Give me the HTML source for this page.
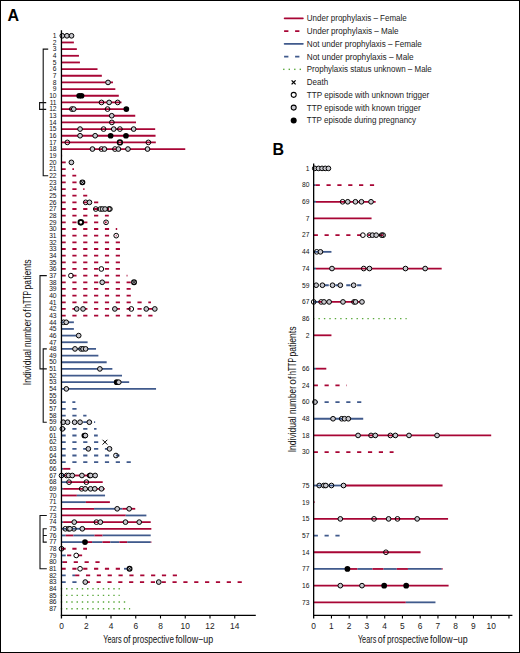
<!DOCTYPE html>
<html><head><meta charset="utf-8"><title>hTTP follow-up</title>
<style>html,body{margin:0;padding:0;background:#fff;}svg{display:block;}text{font-family:"Liberation Sans",sans-serif;}</style>
</head><body>
<svg width="520" height="653" viewBox="0 0 520 653">
<rect x="0.5" y="0.5" width="519" height="652" fill="#fff" stroke="#000" stroke-width="1"/>
<text x="7.4" y="21.1" font-family="Liberation Sans, sans-serif" font-size="16" font-weight="bold" fill="#000">A</text>
<text x="272.5" y="154.5" font-family="Liberation Sans, sans-serif" font-size="16" font-weight="bold" fill="#000">B</text>
<g><line x1="61.50" y1="35.80" x2="71.77" y2="35.80" stroke="#a80535" stroke-width="1.8"/>
<circle cx="62.30" cy="35.80" r="2.35" fill="#c9c9cf" stroke="#000" stroke-width="1.0"/>
<circle cx="66.94" cy="35.80" r="2.35" fill="#c9c9cf" stroke="#000" stroke-width="1.0"/>
<circle cx="71.52" cy="35.80" r="2.35" fill="#c9c9cf" stroke="#000" stroke-width="1.0"/>
<line x1="61.50" y1="42.46" x2="73.88" y2="42.46" stroke="#a80535" stroke-width="1.8"/>
<line x1="61.50" y1="49.12" x2="76.84" y2="49.12" stroke="#a80535" stroke-width="1.8"/>
<line x1="61.50" y1="55.79" x2="78.95" y2="55.79" stroke="#a80535" stroke-width="1.8"/>
<line x1="61.50" y1="62.45" x2="79.94" y2="62.45" stroke="#a80535" stroke-width="1.8"/>
<line x1="61.50" y1="69.11" x2="97.51" y2="69.11" stroke="#a80535" stroke-width="1.8"/>
<line x1="61.50" y1="75.77" x2="101.84" y2="75.77" stroke="#a80535" stroke-width="1.8"/>
<line x1="61.50" y1="82.43" x2="112.98" y2="82.43" stroke="#a80535" stroke-width="1.8"/>
<circle cx="108.03" cy="82.43" r="2.35" fill="#c9c9cf" stroke="#000" stroke-width="1.0"/>
<line x1="61.50" y1="89.10" x2="115.33" y2="89.10" stroke="#a80535" stroke-width="1.8"/>
<line x1="61.50" y1="95.76" x2="118.80" y2="95.76" stroke="#a80535" stroke-width="1.8"/>
<circle cx="79.20" cy="95.76" r="2.85" fill="#000"/>
<circle cx="81.55" cy="95.76" r="2.85" fill="#000"/>
<line x1="61.50" y1="102.42" x2="121.52" y2="102.42" stroke="#a80535" stroke-width="1.8"/>
<circle cx="101.47" cy="102.42" r="2.35" fill="none" stroke="#000" stroke-width="1.0"/>
<circle cx="117.68" cy="102.42" r="2.35" fill="none" stroke="#000" stroke-width="1.0"/>
<circle cx="109.14" cy="102.42" r="2.35" fill="#c9c9cf" stroke="#000" stroke-width="1.0"/>
<line x1="61.50" y1="109.08" x2="126.34" y2="109.08" stroke="#a80535" stroke-width="1.8"/>
<circle cx="71.89" cy="109.08" r="2.35" fill="none" stroke="#000" stroke-width="1.0"/>
<circle cx="107.53" cy="109.08" r="2.35" fill="none" stroke="#000" stroke-width="1.0"/>
<circle cx="126.34" cy="109.08" r="2.85" fill="#000"/>
<circle cx="73.75" cy="109.08" r="2.35" fill="#c9c9cf" stroke="#000" stroke-width="1.0"/>
<line x1="61.50" y1="115.74" x2="135.25" y2="115.74" stroke="#a80535" stroke-width="1.8"/>
<circle cx="111.74" cy="115.74" r="2.35" fill="#c9c9cf" stroke="#000" stroke-width="1.0"/>
<line x1="61.50" y1="122.41" x2="136.00" y2="122.41" stroke="#a80535" stroke-width="1.8"/>
<circle cx="111.87" cy="122.41" r="2.35" fill="none" stroke="#000" stroke-width="1.0"/>
<line x1="61.50" y1="129.07" x2="155.18" y2="129.07" stroke="#a80535" stroke-width="1.8"/>
<circle cx="103.57" cy="129.07" r="2.35" fill="none" stroke="#000" stroke-width="1.0"/>
<circle cx="119.91" cy="129.07" r="2.35" fill="none" stroke="#000" stroke-width="1.0"/>
<circle cx="80.06" cy="129.07" r="2.35" fill="#c9c9cf" stroke="#000" stroke-width="1.0"/>
<circle cx="113.72" cy="129.07" r="2.35" fill="#c9c9cf" stroke="#000" stroke-width="1.0"/>
<circle cx="133.65" cy="129.07" r="2.35" fill="#c9c9cf" stroke="#000" stroke-width="1.0"/>
<line x1="61.50" y1="135.73" x2="155.55" y2="135.73" stroke="#a80535" stroke-width="1.8"/>
<circle cx="110.63" cy="135.73" r="2.85" fill="#000"/>
<circle cx="125.97" cy="135.73" r="2.85" fill="#000"/>
<circle cx="80.06" cy="135.73" r="2.35" fill="#c9c9cf" stroke="#000" stroke-width="1.0"/>
<circle cx="95.16" cy="135.73" r="2.35" fill="#c9c9cf" stroke="#000" stroke-width="1.0"/>
<line x1="61.50" y1="142.39" x2="155.80" y2="142.39" stroke="#a80535" stroke-width="1.8"/>
<circle cx="67.32" cy="142.39" r="2.35" fill="none" stroke="#000" stroke-width="1.0"/>
<circle cx="119.91" cy="142.39" r="2.35" fill="none" stroke="#000" stroke-width="1.6"/>
<circle cx="148.37" cy="142.39" r="2.35" fill="none" stroke="#000" stroke-width="1.0"/>
<line x1="61.50" y1="149.05" x2="185.25" y2="149.05" stroke="#a80535" stroke-width="1.8"/>
<circle cx="101.47" cy="149.05" r="2.35" fill="none" stroke="#000" stroke-width="1.0"/>
<circle cx="114.96" cy="149.05" r="2.35" fill="none" stroke="#000" stroke-width="1.0"/>
<circle cx="92.44" cy="149.05" r="2.35" fill="#c9c9cf" stroke="#000" stroke-width="1.0"/>
<circle cx="104.44" cy="149.05" r="2.35" fill="#c9c9cf" stroke="#000" stroke-width="1.0"/>
<circle cx="118.42" cy="149.05" r="2.35" fill="#c9c9cf" stroke="#000" stroke-width="1.0"/>
<circle cx="127.95" cy="149.05" r="2.35" fill="#c9c9cf" stroke="#000" stroke-width="1.0"/>
<circle cx="147.51" cy="149.05" r="2.35" fill="#c9c9cf" stroke="#000" stroke-width="1.0"/>
<line x1="61.50" y1="155.72" x2="62.12" y2="155.72" stroke="#a80535" stroke-width="1.8"/>
<line x1="61.50" y1="162.38" x2="71.40" y2="162.38" stroke="#a80535" stroke-width="1.8" stroke-dasharray="4.2 6.65"/>
<circle cx="71.40" cy="162.38" r="2.35" fill="#c9c9cf" stroke="#000" stroke-width="1.0"/>
<line x1="61.50" y1="169.04" x2="74.00" y2="169.04" stroke="#a80535" stroke-width="1.8" stroke-dasharray="4.2 6.65"/>
<line x1="61.50" y1="175.70" x2="76.23" y2="175.70" stroke="#a80535" stroke-width="1.8" stroke-dasharray="4.2 6.65"/>
<line x1="61.50" y1="182.36" x2="82.41" y2="182.36" stroke="#a80535" stroke-width="1.8" stroke-dasharray="4.2 6.65"/>
<circle cx="82.41" cy="182.36" r="2.35" fill="#c9c9cf" stroke="#000" stroke-width="1.2"/><path d="M80.66 180.61L84.16 184.11M84.16 180.61L80.66 184.11" stroke="#000" stroke-width="0.8"/>
<line x1="61.50" y1="189.03" x2="84.52" y2="189.03" stroke="#a80535" stroke-width="1.8" stroke-dasharray="4.2 6.65"/>
<line x1="61.50" y1="195.69" x2="87.24" y2="195.69" stroke="#a80535" stroke-width="1.8" stroke-dasharray="4.2 6.65"/>
<line x1="61.50" y1="202.35" x2="98.25" y2="202.35" stroke="#a80535" stroke-width="1.8" stroke-dasharray="4.2 6.65"/>
<circle cx="85.75" cy="202.35" r="2.35" fill="none" stroke="#000" stroke-width="1.0"/>
<circle cx="89.47" cy="202.35" r="2.35" fill="#c9c9cf" stroke="#000" stroke-width="1.0"/>
<line x1="61.50" y1="209.01" x2="109.89" y2="209.01" stroke="#a80535" stroke-width="1.8" stroke-dasharray="4.2 6.65"/>
<circle cx="95.78" cy="209.01" r="2.35" fill="none" stroke="#000" stroke-width="1.0"/>
<circle cx="100.36" cy="209.01" r="2.35" fill="none" stroke="#000" stroke-width="1.0"/>
<circle cx="108.90" cy="209.01" r="2.35" fill="none" stroke="#000" stroke-width="1.0"/>
<circle cx="109.89" cy="209.01" r="2.35" fill="none" stroke="#000" stroke-width="1.0"/>
<circle cx="102.46" cy="209.01" r="2.35" fill="#c9c9cf" stroke="#000" stroke-width="1.0"/>
<circle cx="105.06" cy="209.01" r="2.35" fill="#c9c9cf" stroke="#000" stroke-width="1.0"/>
<line x1="61.50" y1="215.67" x2="108.77" y2="215.67" stroke="#a80535" stroke-width="1.8" stroke-dasharray="4.2 6.65"/>
<line x1="61.50" y1="222.34" x2="106.67" y2="222.34" stroke="#a80535" stroke-width="1.8" stroke-dasharray="4.2 6.65"/>
<circle cx="106.05" cy="222.34" r="2.35" fill="none" stroke="#000" stroke-width="1.0"/>
<circle cx="80.81" cy="222.34" r="2.35" fill="#fff" stroke="#000" stroke-width="1.9"/>
<line x1="61.50" y1="229.00" x2="117.19" y2="229.00" stroke="#a80535" stroke-width="1.8" stroke-dasharray="4.2 6.65"/>
<line x1="61.50" y1="235.66" x2="116.57" y2="235.66" stroke="#a80535" stroke-width="1.8" stroke-dasharray="4.2 6.65"/>
<circle cx="116.20" cy="235.66" r="2.35" fill="none" stroke="#000" stroke-width="1.0"/>
<line x1="61.50" y1="242.32" x2="120.28" y2="242.32" stroke="#a80535" stroke-width="1.8" stroke-dasharray="4.2 6.65"/>
<line x1="61.50" y1="248.98" x2="120.28" y2="248.98" stroke="#a80535" stroke-width="1.8" stroke-dasharray="4.2 6.65"/>
<line x1="61.50" y1="255.65" x2="120.28" y2="255.65" stroke="#a80535" stroke-width="1.8" stroke-dasharray="4.2 6.65"/>
<line x1="61.50" y1="262.31" x2="120.28" y2="262.31" stroke="#a80535" stroke-width="1.8" stroke-dasharray="4.2 6.65"/>
<line x1="61.50" y1="268.97" x2="120.28" y2="268.97" stroke="#a80535" stroke-width="1.8" stroke-dasharray="4.2 6.65"/>
<circle cx="101.35" cy="268.97" r="2.35" fill="none" stroke="#000" stroke-width="1.0"/>
<line x1="61.50" y1="275.63" x2="127.46" y2="275.63" stroke="#a80535" stroke-width="1.8" stroke-dasharray="4.2 6.65"/>
<circle cx="70.91" cy="275.63" r="2.35" fill="none" stroke="#000" stroke-width="1.0"/>
<line x1="61.50" y1="282.29" x2="134.02" y2="282.29" stroke="#a80535" stroke-width="1.8" stroke-dasharray="4.2 6.65"/>
<circle cx="102.21" cy="282.29" r="2.35" fill="#c9c9cf" stroke="#000" stroke-width="1.0"/>
<circle cx="134.02" cy="282.29" r="2.35" fill="#c9c9cf" stroke="#000" stroke-width="1.2"/><path d="M132.27 280.54L135.77 284.04M135.77 280.54L132.27 284.04" stroke="#000" stroke-width="0.8"/>
<line x1="61.50" y1="288.96" x2="130.68" y2="288.96" stroke="#a80535" stroke-width="1.8" stroke-dasharray="4.2 6.65"/>
<line x1="61.50" y1="295.62" x2="130.80" y2="295.62" stroke="#a80535" stroke-width="1.8" stroke-dasharray="4.2 6.65"/>
<line x1="61.50" y1="302.28" x2="150.97" y2="302.28" stroke="#a80535" stroke-width="1.8" stroke-dasharray="4.2 6.65"/>
<line x1="61.50" y1="308.94" x2="155.06" y2="308.94" stroke="#a80535" stroke-width="1.8" stroke-dasharray="4.2 6.65"/>
<circle cx="131.30" cy="308.94" r="2.35" fill="none" stroke="#000" stroke-width="1.0"/>
<circle cx="76.72" cy="308.94" r="2.35" fill="#c9c9cf" stroke="#000" stroke-width="1.0"/>
<circle cx="83.03" cy="308.94" r="2.35" fill="#c9c9cf" stroke="#000" stroke-width="1.0"/>
<circle cx="114.84" cy="308.94" r="2.35" fill="#c9c9cf" stroke="#000" stroke-width="1.0"/>
<circle cx="146.27" cy="308.94" r="2.35" fill="#c9c9cf" stroke="#000" stroke-width="1.0"/>
<circle cx="154.81" cy="308.94" r="2.35" fill="#c9c9cf" stroke="#000" stroke-width="1.0"/>
<line x1="61.50" y1="315.60" x2="152.95" y2="315.60" stroke="#a80535" stroke-width="1.8" stroke-dasharray="4.2 6.65"/>
<line x1="61.50" y1="322.27" x2="73.88" y2="322.27" stroke="#405a8c" stroke-width="1.8"/>
<circle cx="63.60" cy="322.27" r="2.35" fill="none" stroke="#000" stroke-width="1.0"/>
<circle cx="66.20" cy="322.27" r="2.35" fill="#c9c9cf" stroke="#000" stroke-width="1.0"/>
<line x1="61.50" y1="328.93" x2="73.88" y2="328.93" stroke="#405a8c" stroke-width="1.8"/>
<line x1="61.50" y1="335.59" x2="78.70" y2="335.59" stroke="#405a8c" stroke-width="1.8"/>
<circle cx="78.70" cy="335.59" r="2.35" fill="#c9c9cf" stroke="#000" stroke-width="1.0"/>
<line x1="61.50" y1="342.25" x2="87.61" y2="342.25" stroke="#405a8c" stroke-width="1.8"/>
<line x1="61.50" y1="348.91" x2="96.03" y2="348.91" stroke="#405a8c" stroke-width="1.8"/>
<circle cx="81.05" cy="348.91" r="2.35" fill="none" stroke="#000" stroke-width="1.0"/>
<circle cx="74.99" cy="348.91" r="2.35" fill="#c9c9cf" stroke="#000" stroke-width="1.0"/>
<circle cx="83.03" cy="348.91" r="2.35" fill="#c9c9cf" stroke="#000" stroke-width="1.0"/>
<circle cx="85.63" cy="348.91" r="2.35" fill="#c9c9cf" stroke="#000" stroke-width="1.0"/>
<line x1="61.50" y1="355.58" x2="98.38" y2="355.58" stroke="#405a8c" stroke-width="1.8"/>
<line x1="61.50" y1="362.24" x2="106.67" y2="362.24" stroke="#405a8c" stroke-width="1.8"/>
<line x1="61.50" y1="368.90" x2="112.36" y2="368.90" stroke="#405a8c" stroke-width="1.8"/>
<circle cx="99.86" cy="368.90" r="2.35" fill="#c9c9cf" stroke="#000" stroke-width="1.0"/>
<line x1="61.50" y1="375.56" x2="122.01" y2="375.56" stroke="#405a8c" stroke-width="1.8"/>
<line x1="61.50" y1="382.22" x2="129.19" y2="382.22" stroke="#405a8c" stroke-width="1.8"/>
<circle cx="116.69" cy="382.22" r="2.85" fill="#000"/>
<circle cx="118.80" cy="382.22" r="2.35" fill="#c9c9cf" stroke="#000" stroke-width="1.0"/>
<line x1="61.50" y1="388.89" x2="156.05" y2="388.89" stroke="#405a8c" stroke-width="1.8"/>
<circle cx="66.33" cy="388.89" r="2.35" fill="#c9c9cf" stroke="#000" stroke-width="1.0"/>

<line x1="61.50" y1="402.21" x2="75.36" y2="402.21" stroke="#405a8c" stroke-width="1.8" stroke-dasharray="4.2 6.65"/>
<line x1="61.50" y1="408.87" x2="79.57" y2="408.87" stroke="#405a8c" stroke-width="1.8" stroke-dasharray="4.2 6.65"/>
<line x1="61.50" y1="415.53" x2="86.50" y2="415.53" stroke="#405a8c" stroke-width="1.8" stroke-dasharray="4.2 6.65"/>
<line x1="61.50" y1="422.20" x2="95.16" y2="422.20" stroke="#405a8c" stroke-width="1.8" stroke-dasharray="4.2 6.65"/>
<circle cx="63.23" cy="422.20" r="2.35" fill="#c9c9cf" stroke="#000" stroke-width="1.0"/>
<circle cx="67.56" cy="422.20" r="2.35" fill="#c9c9cf" stroke="#000" stroke-width="1.0"/>
<circle cx="74.62" cy="422.20" r="2.35" fill="#c9c9cf" stroke="#000" stroke-width="1.0"/>
<circle cx="80.06" cy="422.20" r="2.35" fill="#c9c9cf" stroke="#000" stroke-width="1.0"/>
<circle cx="89.34" cy="422.20" r="2.35" fill="#c9c9cf" stroke="#000" stroke-width="1.0"/>
<line x1="61.50" y1="428.86" x2="96.52" y2="428.86" stroke="#405a8c" stroke-width="1.8" stroke-dasharray="4.2 6.65"/>
<circle cx="62.37" cy="428.86" r="2.35" fill="#c9c9cf" stroke="#000" stroke-width="1.0"/>
<line x1="61.50" y1="435.52" x2="97.76" y2="435.52" stroke="#405a8c" stroke-width="1.8" stroke-dasharray="4.2 6.65"/>
<circle cx="84.39" cy="435.52" r="2.85" fill="#000"/>
<circle cx="85.38" cy="435.52" r="2.35" fill="#c9c9cf" stroke="#000" stroke-width="1.0"/>
<line x1="61.50" y1="442.18" x2="104.94" y2="442.18" stroke="#405a8c" stroke-width="1.8" stroke-dasharray="4.2 6.65"/>
<path d="M102.54 439.78L107.34 444.58M107.34 439.78L102.54 444.58" stroke="#000" stroke-width="1"/>
<line x1="61.50" y1="448.84" x2="110.01" y2="448.84" stroke="#405a8c" stroke-width="1.8" stroke-dasharray="4.2 6.65"/>
<circle cx="88.35" cy="448.84" r="2.35" fill="#c9c9cf" stroke="#000" stroke-width="1.0"/>
<circle cx="109.52" cy="448.84" r="2.35" fill="#c9c9cf" stroke="#000" stroke-width="1.0"/>
<line x1="61.50" y1="455.51" x2="119.54" y2="455.51" stroke="#405a8c" stroke-width="1.8" stroke-dasharray="4.2 6.65"/>
<circle cx="115.95" cy="455.51" r="2.35" fill="none" stroke="#000" stroke-width="1.0"/>
<line x1="61.50" y1="462.17" x2="130.80" y2="462.17" stroke="#405a8c" stroke-width="1.8" stroke-dasharray="4.2 6.65"/>
<line x1="61.50" y1="468.83" x2="63.11" y2="468.83" stroke="#405a8c" stroke-width="1.8"/>
<line x1="63.11" y1="468.83" x2="70.29" y2="468.83" stroke="#a80535" stroke-width="1.8"/>
<line x1="61.50" y1="475.49" x2="64.59" y2="475.49" stroke="#405a8c" stroke-width="1.8"/>
<line x1="64.59" y1="475.49" x2="95.53" y2="475.49" stroke="#a80535" stroke-width="1.8"/>
<circle cx="61.50" cy="475.49" r="2.35" fill="none" stroke="#000" stroke-width="1.0"/>
<circle cx="66.70" cy="475.49" r="2.35" fill="none" stroke="#000" stroke-width="1.0"/>
<circle cx="89.59" cy="475.49" r="2.35" fill="none" stroke="#000" stroke-width="1.0"/>
<circle cx="68.68" cy="475.49" r="2.35" fill="#c9c9cf" stroke="#000" stroke-width="1.0"/>
<circle cx="72.27" cy="475.49" r="2.35" fill="#c9c9cf" stroke="#000" stroke-width="1.0"/>
<circle cx="81.92" cy="475.49" r="2.35" fill="#c9c9cf" stroke="#000" stroke-width="1.0"/>
<circle cx="90.70" cy="475.49" r="2.35" fill="#c9c9cf" stroke="#000" stroke-width="1.0"/>
<circle cx="95.16" cy="475.49" r="2.35" fill="#c9c9cf" stroke="#000" stroke-width="1.0"/>
<line x1="61.50" y1="482.15" x2="67.69" y2="482.15" stroke="#405a8c" stroke-width="1.8"/>
<line x1="67.69" y1="482.15" x2="102.71" y2="482.15" stroke="#a80535" stroke-width="1.8"/>
<circle cx="69.05" cy="482.15" r="2.35" fill="none" stroke="#000" stroke-width="1.0"/>
<circle cx="86.37" cy="482.15" r="2.35" fill="none" stroke="#000" stroke-width="1.0"/>
<line x1="61.50" y1="488.82" x2="63.11" y2="488.82" stroke="#405a8c" stroke-width="1.8"/>
<line x1="63.11" y1="488.82" x2="104.69" y2="488.82" stroke="#a80535" stroke-width="1.8"/>
<circle cx="81.67" cy="488.82" r="2.35" fill="none" stroke="#000" stroke-width="1.0"/>
<circle cx="85.26" cy="488.82" r="2.35" fill="#c9c9cf" stroke="#000" stroke-width="1.0"/>
<circle cx="90.58" cy="488.82" r="2.35" fill="#c9c9cf" stroke="#000" stroke-width="1.0"/>
<circle cx="94.79" cy="488.82" r="2.35" fill="#c9c9cf" stroke="#000" stroke-width="1.0"/>
<circle cx="101.47" cy="488.82" r="2.35" fill="#c9c9cf" stroke="#000" stroke-width="1.0"/>
<line x1="61.50" y1="495.48" x2="76.84" y2="495.48" stroke="#a80535" stroke-width="1.8"/>
<line x1="76.84" y1="495.48" x2="105.06" y2="495.48" stroke="#405a8c" stroke-width="1.8"/>
<line x1="61.50" y1="502.14" x2="85.88" y2="502.14" stroke="#405a8c" stroke-width="1.8"/>
<line x1="85.88" y1="502.14" x2="109.89" y2="502.14" stroke="#a80535" stroke-width="1.8"/>
<line x1="61.50" y1="508.80" x2="94.05" y2="508.80" stroke="#a80535" stroke-width="1.8"/>
<line x1="94.05" y1="508.80" x2="122.38" y2="508.80" stroke="#405a8c" stroke-width="1.8"/>
<line x1="122.38" y1="508.80" x2="135.25" y2="508.80" stroke="#a80535" stroke-width="1.8"/>
<circle cx="117.19" cy="508.80" r="2.35" fill="#c9c9cf" stroke="#000" stroke-width="1.0"/>
<circle cx="129.19" cy="508.80" r="2.35" fill="#c9c9cf" stroke="#000" stroke-width="1.0"/>
<line x1="61.50" y1="515.46" x2="125.73" y2="515.46" stroke="#a80535" stroke-width="1.8"/>
<line x1="125.73" y1="515.46" x2="146.39" y2="515.46" stroke="#405a8c" stroke-width="1.8"/>
<line x1="61.50" y1="522.13" x2="63.11" y2="522.13" stroke="#405a8c" stroke-width="1.8"/>
<line x1="63.11" y1="522.13" x2="150.72" y2="522.13" stroke="#a80535" stroke-width="1.8"/>
<circle cx="96.40" cy="522.13" r="2.35" fill="none" stroke="#000" stroke-width="1.0"/>
<circle cx="74.25" cy="522.13" r="2.35" fill="#c9c9cf" stroke="#000" stroke-width="1.0"/>
<circle cx="100.36" cy="522.13" r="2.35" fill="#c9c9cf" stroke="#000" stroke-width="1.0"/>
<circle cx="125.48" cy="522.13" r="2.35" fill="#c9c9cf" stroke="#000" stroke-width="1.0"/>
<circle cx="139.22" cy="522.13" r="2.35" fill="#c9c9cf" stroke="#000" stroke-width="1.0"/>
<line x1="61.50" y1="528.79" x2="82.29" y2="528.79" stroke="#405a8c" stroke-width="1.8"/>
<line x1="82.29" y1="528.79" x2="151.34" y2="528.79" stroke="#a80535" stroke-width="1.8"/>
<circle cx="65.34" cy="528.79" r="2.35" fill="none" stroke="#000" stroke-width="1.0"/>
<circle cx="73.88" cy="528.79" r="2.35" fill="none" stroke="#000" stroke-width="1.0"/>
<circle cx="68.55" cy="528.79" r="2.35" fill="#c9c9cf" stroke="#000" stroke-width="1.0"/>
<circle cx="69.92" cy="528.79" r="2.35" fill="#c9c9cf" stroke="#000" stroke-width="1.0"/>
<circle cx="82.29" cy="528.79" r="2.35" fill="#c9c9cf" stroke="#000" stroke-width="1.0"/>
<line x1="61.50" y1="535.45" x2="65.71" y2="535.45" stroke="#405a8c" stroke-width="1.8"/>
<line x1="65.71" y1="535.45" x2="73.38" y2="535.45" stroke="#a80535" stroke-width="1.8"/>
<line x1="73.38" y1="535.45" x2="94.54" y2="535.45" stroke="#405a8c" stroke-width="1.8"/>
<line x1="94.54" y1="535.45" x2="102.59" y2="535.45" stroke="#a80535" stroke-width="1.8"/>
<line x1="102.59" y1="535.45" x2="150.72" y2="535.45" stroke="#405a8c" stroke-width="1.8"/>
<line x1="61.50" y1="542.11" x2="85.01" y2="542.11" stroke="#405a8c" stroke-width="1.8"/>
<line x1="85.01" y1="542.11" x2="92.07" y2="542.11" stroke="#a80535" stroke-width="1.8"/>
<line x1="92.07" y1="542.11" x2="102.46" y2="542.11" stroke="#405a8c" stroke-width="1.8"/>
<line x1="102.46" y1="542.11" x2="110.26" y2="542.11" stroke="#a80535" stroke-width="1.8"/>
<line x1="110.26" y1="542.11" x2="119.41" y2="542.11" stroke="#405a8c" stroke-width="1.8"/>
<line x1="119.41" y1="542.11" x2="127.21" y2="542.11" stroke="#a80535" stroke-width="1.8"/>
<line x1="127.21" y1="542.11" x2="150.72" y2="542.11" stroke="#405a8c" stroke-width="1.8"/>
<line x1="150.72" y1="542.11" x2="151.34" y2="542.11" stroke="#a80535" stroke-width="1.8"/>
<circle cx="85.01" cy="542.11" r="2.85" fill="#000"/>
<line x1="61.50" y1="548.77" x2="86.99" y2="548.77" stroke="#a80535" stroke-width="1.8" stroke-dasharray="4.2 6.65"/>
<circle cx="61.50" cy="548.77" r="2.35" fill="none" stroke="#000" stroke-width="1.0"/>
<line x1="61.50" y1="555.44" x2="67.07" y2="555.44" stroke="#405a8c" stroke-width="1.8" stroke-dasharray="4.2 6.65"/>
<line x1="67.07" y1="555.44" x2="82.66" y2="555.44" stroke="#a80535" stroke-width="1.8" stroke-dasharray="4.2 6.65"/>
<circle cx="76.23" cy="555.44" r="2.35" fill="none" stroke="#000" stroke-width="1.0"/>
<line x1="61.50" y1="562.10" x2="62.86" y2="562.10" stroke="#405a8c" stroke-width="1.8"/>
<line x1="62.86" y1="562.10" x2="103.70" y2="562.10" stroke="#a80535" stroke-width="1.8" stroke-dasharray="4.2 6.65"/>
<line x1="61.50" y1="568.76" x2="123.99" y2="568.76" stroke="#a80535" stroke-width="1.8" stroke-dasharray="4.2 6.65"/>
<line x1="123.99" y1="568.76" x2="129.56" y2="568.76" stroke="#405a8c" stroke-width="1.8" stroke-dasharray="4.2 6.65"/>
<circle cx="80.06" cy="568.76" r="2.35" fill="none" stroke="#000" stroke-width="1.0"/>
<circle cx="129.56" cy="568.76" r="2.35" fill="#c9c9cf" stroke="#000" stroke-width="1.2"/><path d="M127.81 567.01L131.31 570.51M131.31 567.01L127.81 570.51" stroke="#000" stroke-width="0.8"/>
<line x1="61.50" y1="575.42" x2="75.11" y2="575.42" stroke="#405a8c" stroke-width="1.8" stroke-dasharray="4.2 6.65"/>
<line x1="75.11" y1="575.42" x2="177.45" y2="575.42" stroke="#a80535" stroke-width="1.8" stroke-dasharray="4.2 6.65"/>
<line x1="61.50" y1="582.08" x2="85.69" y2="582.08" stroke="#405a8c" stroke-width="1.8" stroke-dasharray="4.2 6.65"/>
<line x1="85.69" y1="582.08" x2="242.55" y2="582.08" stroke="#a80535" stroke-width="1.8" stroke-dasharray="4.2 6.65"/>
<circle cx="85.26" cy="582.08" r="2.35" fill="#c9c9cf" stroke="#000" stroke-width="1.0"/>
<circle cx="158.77" cy="582.08" r="2.35" fill="#c9c9cf" stroke="#000" stroke-width="1.0"/>
<line x1="60.80" y1="588.75" x2="119.87" y2="588.75" stroke="#5aa83c" stroke-width="1.4" stroke-dasharray="1.4 3.85"/>
<line x1="60.80" y1="595.41" x2="119.74" y2="595.41" stroke="#5aa83c" stroke-width="1.4" stroke-dasharray="1.4 3.85"/>
<line x1="60.80" y1="602.07" x2="126.55" y2="602.07" stroke="#5aa83c" stroke-width="1.4" stroke-dasharray="1.4 3.85"/>
<line x1="60.80" y1="608.73" x2="130.14" y2="608.73" stroke="#5aa83c" stroke-width="1.4" stroke-dasharray="1.4 3.85"/></g>
<g font-family="Liberation Sans, sans-serif" font-size="6.7" fill="#111" text-anchor="end"><text x="56.6" y="38.05">1</text><text x="56.6" y="44.71">2</text><text x="56.6" y="51.37">3</text><text x="56.6" y="58.04">4</text><text x="56.6" y="64.70">5</text><text x="56.6" y="71.36">6</text><text x="56.6" y="78.02">7</text><text x="56.6" y="84.68">8</text><text x="56.6" y="91.35">9</text><text x="56.6" y="98.01">10</text><text x="56.6" y="104.67">11</text><text x="56.6" y="111.33">12</text><text x="56.6" y="117.99">13</text><text x="56.6" y="124.66">14</text><text x="56.6" y="131.32">15</text><text x="56.6" y="137.98">16</text><text x="56.6" y="144.64">17</text><text x="56.6" y="151.30">18</text><text x="56.6" y="157.97">19</text><text x="56.6" y="164.63">20</text><text x="56.6" y="171.29">21</text><text x="56.6" y="177.95">22</text><text x="56.6" y="184.61">23</text><text x="56.6" y="191.28">24</text><text x="56.6" y="197.94">25</text><text x="56.6" y="204.60">26</text><text x="56.6" y="211.26">27</text><text x="56.6" y="217.92">28</text><text x="56.6" y="224.59">29</text><text x="56.6" y="231.25">30</text><text x="56.6" y="237.91">31</text><text x="56.6" y="244.57">32</text><text x="56.6" y="251.23">33</text><text x="56.6" y="257.90">34</text><text x="56.6" y="264.56">35</text><text x="56.6" y="271.22">36</text><text x="56.6" y="277.88">37</text><text x="56.6" y="284.54">38</text><text x="56.6" y="291.21">39</text><text x="56.6" y="297.87">40</text><text x="56.6" y="304.53">41</text><text x="56.6" y="311.19">42</text><text x="56.6" y="317.85">43</text><text x="56.6" y="324.52">44</text><text x="56.6" y="331.18">45</text><text x="56.6" y="337.84">46</text><text x="56.6" y="344.50">47</text><text x="56.6" y="351.16">48</text><text x="56.6" y="357.83">49</text><text x="56.6" y="364.49">50</text><text x="56.6" y="371.15">51</text><text x="56.6" y="377.81">52</text><text x="56.6" y="384.47">53</text><text x="56.6" y="391.14">54</text><text x="56.6" y="397.80">55</text><text x="56.6" y="404.46">56</text><text x="56.6" y="411.12">57</text><text x="56.6" y="417.78">58</text><text x="56.6" y="424.45">59</text><text x="56.6" y="431.11">60</text><text x="56.6" y="437.77">61</text><text x="56.6" y="444.43">62</text><text x="56.6" y="451.09">63</text><text x="56.6" y="457.76">64</text><text x="56.6" y="464.42">65</text><text x="56.6" y="471.08">66</text><text x="56.6" y="477.74">67</text><text x="56.6" y="484.40">68</text><text x="56.6" y="491.07">69</text><text x="56.6" y="497.73">70</text><text x="56.6" y="504.39">71</text><text x="56.6" y="511.05">72</text><text x="56.6" y="517.71">73</text><text x="56.6" y="524.38">74</text><text x="56.6" y="531.04">75</text><text x="56.6" y="537.70">76</text><text x="56.6" y="544.36">77</text><text x="56.6" y="551.02">78</text><text x="56.6" y="557.69">79</text><text x="56.6" y="564.35">80</text><text x="56.6" y="571.01">81</text><text x="56.6" y="577.67">82</text><text x="56.6" y="584.33">83</text><text x="56.6" y="591.00">84</text><text x="56.6" y="597.66">85</text><text x="56.6" y="604.32">86</text><text x="56.6" y="610.98">87</text></g>
<line x1="61.45" y1="30.3" x2="61.45" y2="618.5" stroke="#000" stroke-width="1.3"/>
<line x1="60.8" y1="615.3" x2="255.8" y2="615.3" stroke="#000" stroke-width="1.3"/>
<line x1="86.25" y1="615" x2="86.25" y2="618.5" stroke="#000" stroke-width="1.1"/><line x1="111.00" y1="615" x2="111.00" y2="618.5" stroke="#000" stroke-width="1.1"/><line x1="135.75" y1="615" x2="135.75" y2="618.5" stroke="#000" stroke-width="1.1"/><line x1="160.50" y1="615" x2="160.50" y2="618.5" stroke="#000" stroke-width="1.1"/><line x1="185.25" y1="615" x2="185.25" y2="618.5" stroke="#000" stroke-width="1.1"/><line x1="210.00" y1="615" x2="210.00" y2="618.5" stroke="#000" stroke-width="1.1"/><line x1="234.75" y1="615" x2="234.75" y2="618.5" stroke="#000" stroke-width="1.1"/>
<g font-family="Liberation Sans, sans-serif" font-size="8.4" fill="#222" text-anchor="middle"><text x="61.50" y="629.1">0</text><text x="86.25" y="629.1">2</text><text x="111.00" y="629.1">4</text><text x="135.75" y="629.1">6</text><text x="160.50" y="629.1">8</text><text x="185.25" y="629.1">10</text><text x="210.00" y="629.1">12</text><text x="234.75" y="629.1">14</text></g>
<g font-family="Liberation Sans, sans-serif" font-size="10.5" fill="#111"><text x="103.30" y="642.8" textLength="18.40" lengthAdjust="spacingAndGlyphs">Years</text><text x="123.20" y="642.8" textLength="7.40" lengthAdjust="spacingAndGlyphs">of</text><text x="132.50" y="642.8" textLength="41.40" lengthAdjust="spacingAndGlyphs">prospective</text><text x="175.40" y="642.8" textLength="37.70" lengthAdjust="spacingAndGlyphs">follow−up</text></g>
<g font-family="Liberation Sans, sans-serif" font-size="10.5" fill="#111"><text transform="translate(30.6,385.20) rotate(-90)" textLength="36.00" lengthAdjust="spacingAndGlyphs">Individual</text><text transform="translate(30.6,347.00) rotate(-90)" textLength="28.00" lengthAdjust="spacingAndGlyphs">number</text><text transform="translate(30.6,317.70) rotate(-90)" textLength="8.40" lengthAdjust="spacingAndGlyphs">of</text><text transform="translate(30.6,308.00) rotate(-90)" textLength="17.20" lengthAdjust="spacingAndGlyphs">hTTP</text><text transform="translate(30.6,289.40) rotate(-90)" textLength="30.00" lengthAdjust="spacingAndGlyphs">patients</text></g>
<path d="M48.2 49.12H43.2V175.70H48.2" fill="none" stroke="#111" stroke-width="1.1"/>
<path d="M46.2 102.6H39.6V109.4H46.2" fill="none" stroke="#111" stroke-width="1.1"/>
<path d="M46.8 275.63H40.0V368.90H46.8" fill="none" stroke="#111" stroke-width="1.1"/>
<path d="M46.8 348.91H43.2V422.20H46.8" fill="none" stroke="#111" stroke-width="1.1"/>
<path d="M46.8 515.46H40.0V568.76H46.8" fill="none" stroke="#111" stroke-width="1.1"/>
<path d="M46.8 528.79H43.2V542.11H46.8M43.2 535.45H46.8" fill="none" stroke="#111" stroke-width="1.1"/>
<g><line x1="313.70" y1="168.40" x2="328.43" y2="168.40" stroke="#a80535" stroke-width="1.8"/>
<circle cx="314.76" cy="168.40" r="2.35" fill="#c9c9cf" stroke="#000" stroke-width="1.0"/>
<circle cx="318.49" cy="168.40" r="2.35" fill="#c9c9cf" stroke="#000" stroke-width="1.0"/>
<circle cx="322.04" cy="168.40" r="2.35" fill="#c9c9cf" stroke="#000" stroke-width="1.0"/>
<circle cx="325.24" cy="168.40" r="2.35" fill="#c9c9cf" stroke="#000" stroke-width="1.0"/>
<circle cx="328.43" cy="168.40" r="2.35" fill="#c9c9cf" stroke="#000" stroke-width="1.0"/>
<line x1="313.70" y1="185.09" x2="315.65" y2="185.09" stroke="#405a8c" stroke-width="1.8"/>
<line x1="315.65" y1="185.09" x2="374.23" y2="185.09" stroke="#a80535" stroke-width="1.8" stroke-dasharray="4.2 6.65"/>
<line x1="313.70" y1="201.78" x2="316.01" y2="201.78" stroke="#405a8c" stroke-width="1.8"/>
<line x1="316.01" y1="201.78" x2="375.65" y2="201.78" stroke="#a80535" stroke-width="1.8"/>
<circle cx="342.63" cy="201.78" r="2.35" fill="none" stroke="#000" stroke-width="1.0"/>
<circle cx="347.78" cy="201.78" r="2.35" fill="#c9c9cf" stroke="#000" stroke-width="1.0"/>
<circle cx="355.41" cy="201.78" r="2.35" fill="#c9c9cf" stroke="#000" stroke-width="1.0"/>
<circle cx="361.45" cy="201.78" r="2.35" fill="#c9c9cf" stroke="#000" stroke-width="1.0"/>
<circle cx="371.03" cy="201.78" r="2.35" fill="#c9c9cf" stroke="#000" stroke-width="1.0"/>
<line x1="313.70" y1="218.47" x2="371.56" y2="218.47" stroke="#a80535" stroke-width="1.8"/>
<line x1="313.70" y1="235.16" x2="383.10" y2="235.16" stroke="#a80535" stroke-width="1.8" stroke-dasharray="4.2 6.65"/>
<circle cx="362.87" cy="235.16" r="2.35" fill="none" stroke="#000" stroke-width="1.0"/>
<circle cx="369.44" cy="235.16" r="2.35" fill="none" stroke="#000" stroke-width="1.0"/>
<circle cx="381.68" cy="235.16" r="2.35" fill="none" stroke="#000" stroke-width="1.0"/>
<circle cx="383.10" cy="235.16" r="2.35" fill="none" stroke="#000" stroke-width="1.0"/>
<circle cx="372.45" cy="235.16" r="2.35" fill="#c9c9cf" stroke="#000" stroke-width="1.0"/>
<circle cx="376.18" cy="235.16" r="2.35" fill="#c9c9cf" stroke="#000" stroke-width="1.0"/>
<line x1="313.70" y1="251.85" x2="331.45" y2="251.85" stroke="#405a8c" stroke-width="1.8"/>
<circle cx="316.72" cy="251.85" r="2.35" fill="none" stroke="#000" stroke-width="1.0"/>
<circle cx="320.44" cy="251.85" r="2.35" fill="#c9c9cf" stroke="#000" stroke-width="1.0"/>
<line x1="313.70" y1="268.54" x2="316.01" y2="268.54" stroke="#405a8c" stroke-width="1.8"/>
<line x1="316.01" y1="268.54" x2="441.68" y2="268.54" stroke="#a80535" stroke-width="1.8"/>
<circle cx="363.75" cy="268.54" r="2.35" fill="none" stroke="#000" stroke-width="1.0"/>
<circle cx="331.98" cy="268.54" r="2.35" fill="#c9c9cf" stroke="#000" stroke-width="1.0"/>
<circle cx="369.44" cy="268.54" r="2.35" fill="#c9c9cf" stroke="#000" stroke-width="1.0"/>
<circle cx="405.47" cy="268.54" r="2.35" fill="#c9c9cf" stroke="#000" stroke-width="1.0"/>
<circle cx="425.17" cy="268.54" r="2.35" fill="#c9c9cf" stroke="#000" stroke-width="1.0"/>
<line x1="313.70" y1="285.23" x2="361.98" y2="285.23" stroke="#405a8c" stroke-width="1.8" stroke-dasharray="4.2 6.65"/>
<circle cx="316.19" cy="285.23" r="2.35" fill="#c9c9cf" stroke="#000" stroke-width="1.0"/>
<circle cx="322.40" cy="285.23" r="2.35" fill="#c9c9cf" stroke="#000" stroke-width="1.0"/>
<circle cx="332.51" cy="285.23" r="2.35" fill="#c9c9cf" stroke="#000" stroke-width="1.0"/>
<circle cx="340.32" cy="285.23" r="2.35" fill="#c9c9cf" stroke="#000" stroke-width="1.0"/>
<circle cx="353.64" cy="285.23" r="2.35" fill="#c9c9cf" stroke="#000" stroke-width="1.0"/>
<line x1="313.70" y1="301.92" x2="318.14" y2="301.92" stroke="#405a8c" stroke-width="1.8"/>
<line x1="318.14" y1="301.92" x2="362.51" y2="301.92" stroke="#a80535" stroke-width="1.8"/>
<circle cx="313.70" cy="301.92" r="2.35" fill="none" stroke="#000" stroke-width="1.0"/>
<circle cx="321.15" cy="301.92" r="2.35" fill="none" stroke="#000" stroke-width="1.0"/>
<circle cx="353.99" cy="301.92" r="2.35" fill="none" stroke="#000" stroke-width="1.0"/>
<circle cx="324.00" cy="301.92" r="2.35" fill="#c9c9cf" stroke="#000" stroke-width="1.0"/>
<circle cx="329.14" cy="301.92" r="2.35" fill="#c9c9cf" stroke="#000" stroke-width="1.0"/>
<circle cx="342.99" cy="301.92" r="2.35" fill="#c9c9cf" stroke="#000" stroke-width="1.0"/>
<circle cx="355.59" cy="301.92" r="2.35" fill="#c9c9cf" stroke="#000" stroke-width="1.0"/>
<circle cx="361.98" cy="301.92" r="2.35" fill="#c9c9cf" stroke="#000" stroke-width="1.0"/>
<line x1="313.00" y1="318.61" x2="406.70" y2="318.61" stroke="#5aa83c" stroke-width="1.4" stroke-dasharray="1.4 4.04"/>
<line x1="313.70" y1="335.30" x2="331.45" y2="335.30" stroke="#a80535" stroke-width="1.8"/>
<line x1="313.70" y1="368.68" x2="316.01" y2="368.68" stroke="#405a8c" stroke-width="1.8"/>
<line x1="316.01" y1="368.68" x2="326.30" y2="368.68" stroke="#a80535" stroke-width="1.8"/>
<line x1="313.70" y1="385.37" x2="346.71" y2="385.37" stroke="#a80535" stroke-width="1.8" stroke-dasharray="4.2 6.65"/>
<line x1="313.70" y1="402.06" x2="363.93" y2="402.06" stroke="#405a8c" stroke-width="1.8" stroke-dasharray="4.2 6.65"/>
<circle cx="314.94" cy="402.06" r="2.35" fill="#c9c9cf" stroke="#000" stroke-width="1.0"/>
<line x1="313.70" y1="418.75" x2="363.22" y2="418.75" stroke="#405a8c" stroke-width="1.8"/>
<circle cx="341.75" cy="418.75" r="2.35" fill="none" stroke="#000" stroke-width="1.0"/>
<circle cx="333.05" cy="418.75" r="2.35" fill="#c9c9cf" stroke="#000" stroke-width="1.0"/>
<circle cx="344.58" cy="418.75" r="2.35" fill="#c9c9cf" stroke="#000" stroke-width="1.0"/>
<circle cx="348.31" cy="418.75" r="2.35" fill="#c9c9cf" stroke="#000" stroke-width="1.0"/>
<line x1="313.70" y1="435.44" x2="491.20" y2="435.44" stroke="#a80535" stroke-width="1.8"/>
<circle cx="371.03" cy="435.44" r="2.35" fill="none" stroke="#000" stroke-width="1.0"/>
<circle cx="390.38" cy="435.44" r="2.35" fill="none" stroke="#000" stroke-width="1.0"/>
<circle cx="358.07" cy="435.44" r="2.35" fill="#c9c9cf" stroke="#000" stroke-width="1.0"/>
<circle cx="375.29" cy="435.44" r="2.35" fill="#c9c9cf" stroke="#000" stroke-width="1.0"/>
<circle cx="395.35" cy="435.44" r="2.35" fill="#c9c9cf" stroke="#000" stroke-width="1.0"/>
<circle cx="409.02" cy="435.44" r="2.35" fill="#c9c9cf" stroke="#000" stroke-width="1.0"/>
<circle cx="437.06" cy="435.44" r="2.35" fill="#c9c9cf" stroke="#000" stroke-width="1.0"/>
<line x1="313.70" y1="452.13" x2="393.57" y2="452.13" stroke="#a80535" stroke-width="1.8" stroke-dasharray="4.2 6.65"/>
<line x1="313.70" y1="485.51" x2="343.52" y2="485.51" stroke="#405a8c" stroke-width="1.8"/>
<line x1="343.52" y1="485.51" x2="442.56" y2="485.51" stroke="#a80535" stroke-width="1.8"/>
<circle cx="319.20" cy="485.51" r="2.35" fill="none" stroke="#000" stroke-width="1.0"/>
<circle cx="331.45" cy="485.51" r="2.35" fill="none" stroke="#000" stroke-width="1.0"/>
<circle cx="323.82" cy="485.51" r="2.35" fill="#c9c9cf" stroke="#000" stroke-width="1.0"/>
<circle cx="325.77" cy="485.51" r="2.35" fill="#c9c9cf" stroke="#000" stroke-width="1.0"/>
<circle cx="343.52" cy="485.51" r="2.35" fill="#c9c9cf" stroke="#000" stroke-width="1.0"/>
<line x1="313.70" y1="502.20" x2="314.59" y2="502.20" stroke="#a80535" stroke-width="1.8"/>
<line x1="313.70" y1="518.89" x2="448.07" y2="518.89" stroke="#a80535" stroke-width="1.8"/>
<circle cx="374.05" cy="518.89" r="2.35" fill="none" stroke="#000" stroke-width="1.0"/>
<circle cx="397.48" cy="518.89" r="2.35" fill="none" stroke="#000" stroke-width="1.0"/>
<circle cx="340.32" cy="518.89" r="2.35" fill="#c9c9cf" stroke="#000" stroke-width="1.0"/>
<circle cx="388.61" cy="518.89" r="2.35" fill="#c9c9cf" stroke="#000" stroke-width="1.0"/>
<circle cx="417.18" cy="518.89" r="2.35" fill="#c9c9cf" stroke="#000" stroke-width="1.0"/>
<line x1="313.70" y1="535.58" x2="339.62" y2="535.58" stroke="#405a8c" stroke-width="1.8" stroke-dasharray="4.2 6.65"/>
<line x1="313.70" y1="552.27" x2="420.55" y2="552.27" stroke="#a80535" stroke-width="1.8"/>
<circle cx="385.94" cy="552.27" r="2.35" fill="none" stroke="#000" stroke-width="1.0"/>
<line x1="313.70" y1="568.96" x2="347.43" y2="568.96" stroke="#405a8c" stroke-width="1.8"/>
<line x1="347.43" y1="568.96" x2="357.54" y2="568.96" stroke="#a80535" stroke-width="1.8"/>
<line x1="357.54" y1="568.96" x2="372.45" y2="568.96" stroke="#405a8c" stroke-width="1.8"/>
<line x1="372.45" y1="568.96" x2="383.63" y2="568.96" stroke="#a80535" stroke-width="1.8"/>
<line x1="383.63" y1="568.96" x2="396.77" y2="568.96" stroke="#405a8c" stroke-width="1.8"/>
<line x1="396.77" y1="568.96" x2="407.95" y2="568.96" stroke="#a80535" stroke-width="1.8"/>
<line x1="407.95" y1="568.96" x2="441.68" y2="568.96" stroke="#405a8c" stroke-width="1.8"/>
<line x1="441.68" y1="568.96" x2="442.56" y2="568.96" stroke="#a80535" stroke-width="1.8"/>
<circle cx="347.43" cy="568.96" r="2.85" fill="#000"/>
<line x1="313.70" y1="585.65" x2="448.60" y2="585.65" stroke="#a80535" stroke-width="1.8"/>
<circle cx="384.17" cy="585.65" r="2.85" fill="#000"/>
<circle cx="406.18" cy="585.65" r="2.85" fill="#000"/>
<circle cx="340.32" cy="585.65" r="2.35" fill="#c9c9cf" stroke="#000" stroke-width="1.0"/>
<circle cx="361.98" cy="585.65" r="2.35" fill="#c9c9cf" stroke="#000" stroke-width="1.0"/>
<line x1="313.70" y1="602.34" x2="405.82" y2="602.34" stroke="#a80535" stroke-width="1.8"/>
<line x1="405.82" y1="602.34" x2="435.46" y2="602.34" stroke="#405a8c" stroke-width="1.8"/></g>
<g font-family="Liberation Sans, sans-serif" font-size="6.7" fill="#111" text-anchor="end"><text x="309.4" y="170.70">1</text><text x="309.4" y="187.39">80</text><text x="309.4" y="204.08">69</text><text x="309.4" y="220.77">7</text><text x="309.4" y="237.46">27</text><text x="309.4" y="254.15">44</text><text x="309.4" y="270.84">74</text><text x="309.4" y="287.53">59</text><text x="309.4" y="304.22">67</text><text x="309.4" y="320.91">86</text><text x="309.4" y="337.60">2</text><text x="309.4" y="370.98">66</text><text x="309.4" y="387.67">24</text><text x="309.4" y="404.36">60</text><text x="309.4" y="421.05">48</text><text x="309.4" y="437.74">18</text><text x="309.4" y="454.43">30</text><text x="309.4" y="487.81">75</text><text x="309.4" y="504.50">19</text><text x="309.4" y="521.19">15</text><text x="309.4" y="537.88">57</text><text x="309.4" y="554.57">14</text><text x="309.4" y="571.26">77</text><text x="309.4" y="587.95">16</text><text x="309.4" y="604.64">73</text></g>
<line x1="313.65" y1="163.5" x2="313.65" y2="618.5" stroke="#000" stroke-width="1.3"/>
<line x1="313.0" y1="615.3" x2="512.4" y2="615.3" stroke="#000" stroke-width="1.3"/>
<line x1="331.45" y1="615" x2="331.45" y2="618.5" stroke="#000" stroke-width="1.1"/><line x1="349.20" y1="615" x2="349.20" y2="618.5" stroke="#000" stroke-width="1.1"/><line x1="366.95" y1="615" x2="366.95" y2="618.5" stroke="#000" stroke-width="1.1"/><line x1="384.70" y1="615" x2="384.70" y2="618.5" stroke="#000" stroke-width="1.1"/><line x1="402.45" y1="615" x2="402.45" y2="618.5" stroke="#000" stroke-width="1.1"/><line x1="420.20" y1="615" x2="420.20" y2="618.5" stroke="#000" stroke-width="1.1"/><line x1="437.95" y1="615" x2="437.95" y2="618.5" stroke="#000" stroke-width="1.1"/><line x1="455.70" y1="615" x2="455.70" y2="618.5" stroke="#000" stroke-width="1.1"/><line x1="473.45" y1="615" x2="473.45" y2="618.5" stroke="#000" stroke-width="1.1"/><line x1="491.20" y1="615" x2="491.20" y2="618.5" stroke="#000" stroke-width="1.1"/><line x1="508.95" y1="615" x2="508.95" y2="618.5" stroke="#000" stroke-width="1.1"/>
<g font-family="Liberation Sans, sans-serif" font-size="8.4" fill="#222" text-anchor="middle"><text x="313.70" y="629.1">0</text><text x="331.45" y="629.1">1</text><text x="349.20" y="629.1">2</text><text x="366.95" y="629.1">3</text><text x="384.70" y="629.1">4</text><text x="402.45" y="629.1">5</text><text x="420.20" y="629.1">6</text><text x="437.95" y="629.1">7</text><text x="455.70" y="629.1">8</text><text x="473.45" y="629.1">9</text><text x="491.20" y="629.1">10</text></g>
<g font-family="Liberation Sans, sans-serif" font-size="10.5" fill="#111"><text x="357.90" y="642.8" textLength="18.40" lengthAdjust="spacingAndGlyphs">Years</text><text x="377.80" y="642.8" textLength="7.40" lengthAdjust="spacingAndGlyphs">of</text><text x="387.10" y="642.8" textLength="41.40" lengthAdjust="spacingAndGlyphs">prospective</text><text x="430.00" y="642.8" textLength="37.70" lengthAdjust="spacingAndGlyphs">follow−up</text></g>
<g font-family="Liberation Sans, sans-serif" font-size="10.5" fill="#111"><text transform="translate(295.5,452.30) rotate(-90)" textLength="36.00" lengthAdjust="spacingAndGlyphs">Individual</text><text transform="translate(295.5,414.10) rotate(-90)" textLength="28.00" lengthAdjust="spacingAndGlyphs">number</text><text transform="translate(295.5,384.80) rotate(-90)" textLength="8.40" lengthAdjust="spacingAndGlyphs">of</text><text transform="translate(295.5,375.10) rotate(-90)" textLength="17.20" lengthAdjust="spacingAndGlyphs">hTTP</text><text transform="translate(295.5,356.50) rotate(-90)" textLength="30.00" lengthAdjust="spacingAndGlyphs">patients</text></g>
<line x1="284.6" y1="18.30" x2="302.9" y2="18.30" stroke="#a80535" stroke-width="1.7" stroke-linecap="round"/>
<text x="306.8" y="21.30" font-family="Liberation Sans, sans-serif" font-size="8.4" fill="#222" textLength="100.0" lengthAdjust="spacingAndGlyphs">Under prophylaxis – Female</text>
<line x1="284.1" y1="31.06" x2="303" y2="31.06" stroke="#a80535" stroke-width="1.7" stroke-dasharray="4.3 6.7"/>
<text x="306.8" y="34.06" font-family="Liberation Sans, sans-serif" font-size="8.4" fill="#222" textLength="91.8" lengthAdjust="spacingAndGlyphs">Under prophylaxis – Male</text>
<line x1="284.6" y1="43.82" x2="302.9" y2="43.82" stroke="#405a8c" stroke-width="1.7" stroke-linecap="round"/>
<text x="306.8" y="46.82" font-family="Liberation Sans, sans-serif" font-size="8.4" fill="#222" textLength="115.0" lengthAdjust="spacingAndGlyphs">Not under prophylaxis – Female</text>
<line x1="284.1" y1="56.58" x2="303" y2="56.58" stroke="#405a8c" stroke-width="1.7" stroke-dasharray="4.3 6.7"/>
<text x="306.8" y="59.58" font-family="Liberation Sans, sans-serif" font-size="8.4" fill="#222" textLength="106.8" lengthAdjust="spacingAndGlyphs">Not under prophylaxis – Male</text>
<rect x="283.10" y="68.64" width="1.4" height="1.4" fill="#5aa83c"/>
<rect x="288.60" y="68.64" width="1.4" height="1.4" fill="#5aa83c"/>
<rect x="294.10" y="68.64" width="1.4" height="1.4" fill="#5aa83c"/>
<rect x="299.60" y="68.64" width="1.4" height="1.4" fill="#5aa83c"/>
<text x="306.8" y="72.34" font-family="Liberation Sans, sans-serif" font-size="8.4" fill="#222" textLength="125.0" lengthAdjust="spacingAndGlyphs">Prophylaxis status unknown – Male</text>
<path d="M291.60 80.40L295.60 84.40M295.60 80.40L291.60 84.40" stroke="#000" stroke-width="1.3"/>
<text x="306.8" y="85.10" font-family="Liberation Sans, sans-serif" font-size="8.4" fill="#222" textLength="21.4" lengthAdjust="spacingAndGlyphs">Death</text>
<circle cx="293.7" cy="94.86" r="2.5" fill="#fff" stroke="#000" stroke-width="1.05"/>
<text x="306.8" y="97.86" font-family="Liberation Sans, sans-serif" font-size="8.4" fill="#222" textLength="122.5" lengthAdjust="spacingAndGlyphs">TTP episode with unknown trigger</text>
<circle cx="293.7" cy="107.62" r="2.5" fill="#c9c9cf" stroke="#000" stroke-width="1.05"/>
<text x="306.8" y="110.62" font-family="Liberation Sans, sans-serif" font-size="8.4" fill="#222" textLength="113.9" lengthAdjust="spacingAndGlyphs">TTP episode with known trigger</text>
<circle cx="293.7" cy="120.38" r="3.0" fill="#000"/>
<text x="306.8" y="123.38" font-family="Liberation Sans, sans-serif" font-size="8.4" fill="#222" textLength="109.3" lengthAdjust="spacingAndGlyphs">TTP episode during pregnancy</text>
</svg>
</body></html>
